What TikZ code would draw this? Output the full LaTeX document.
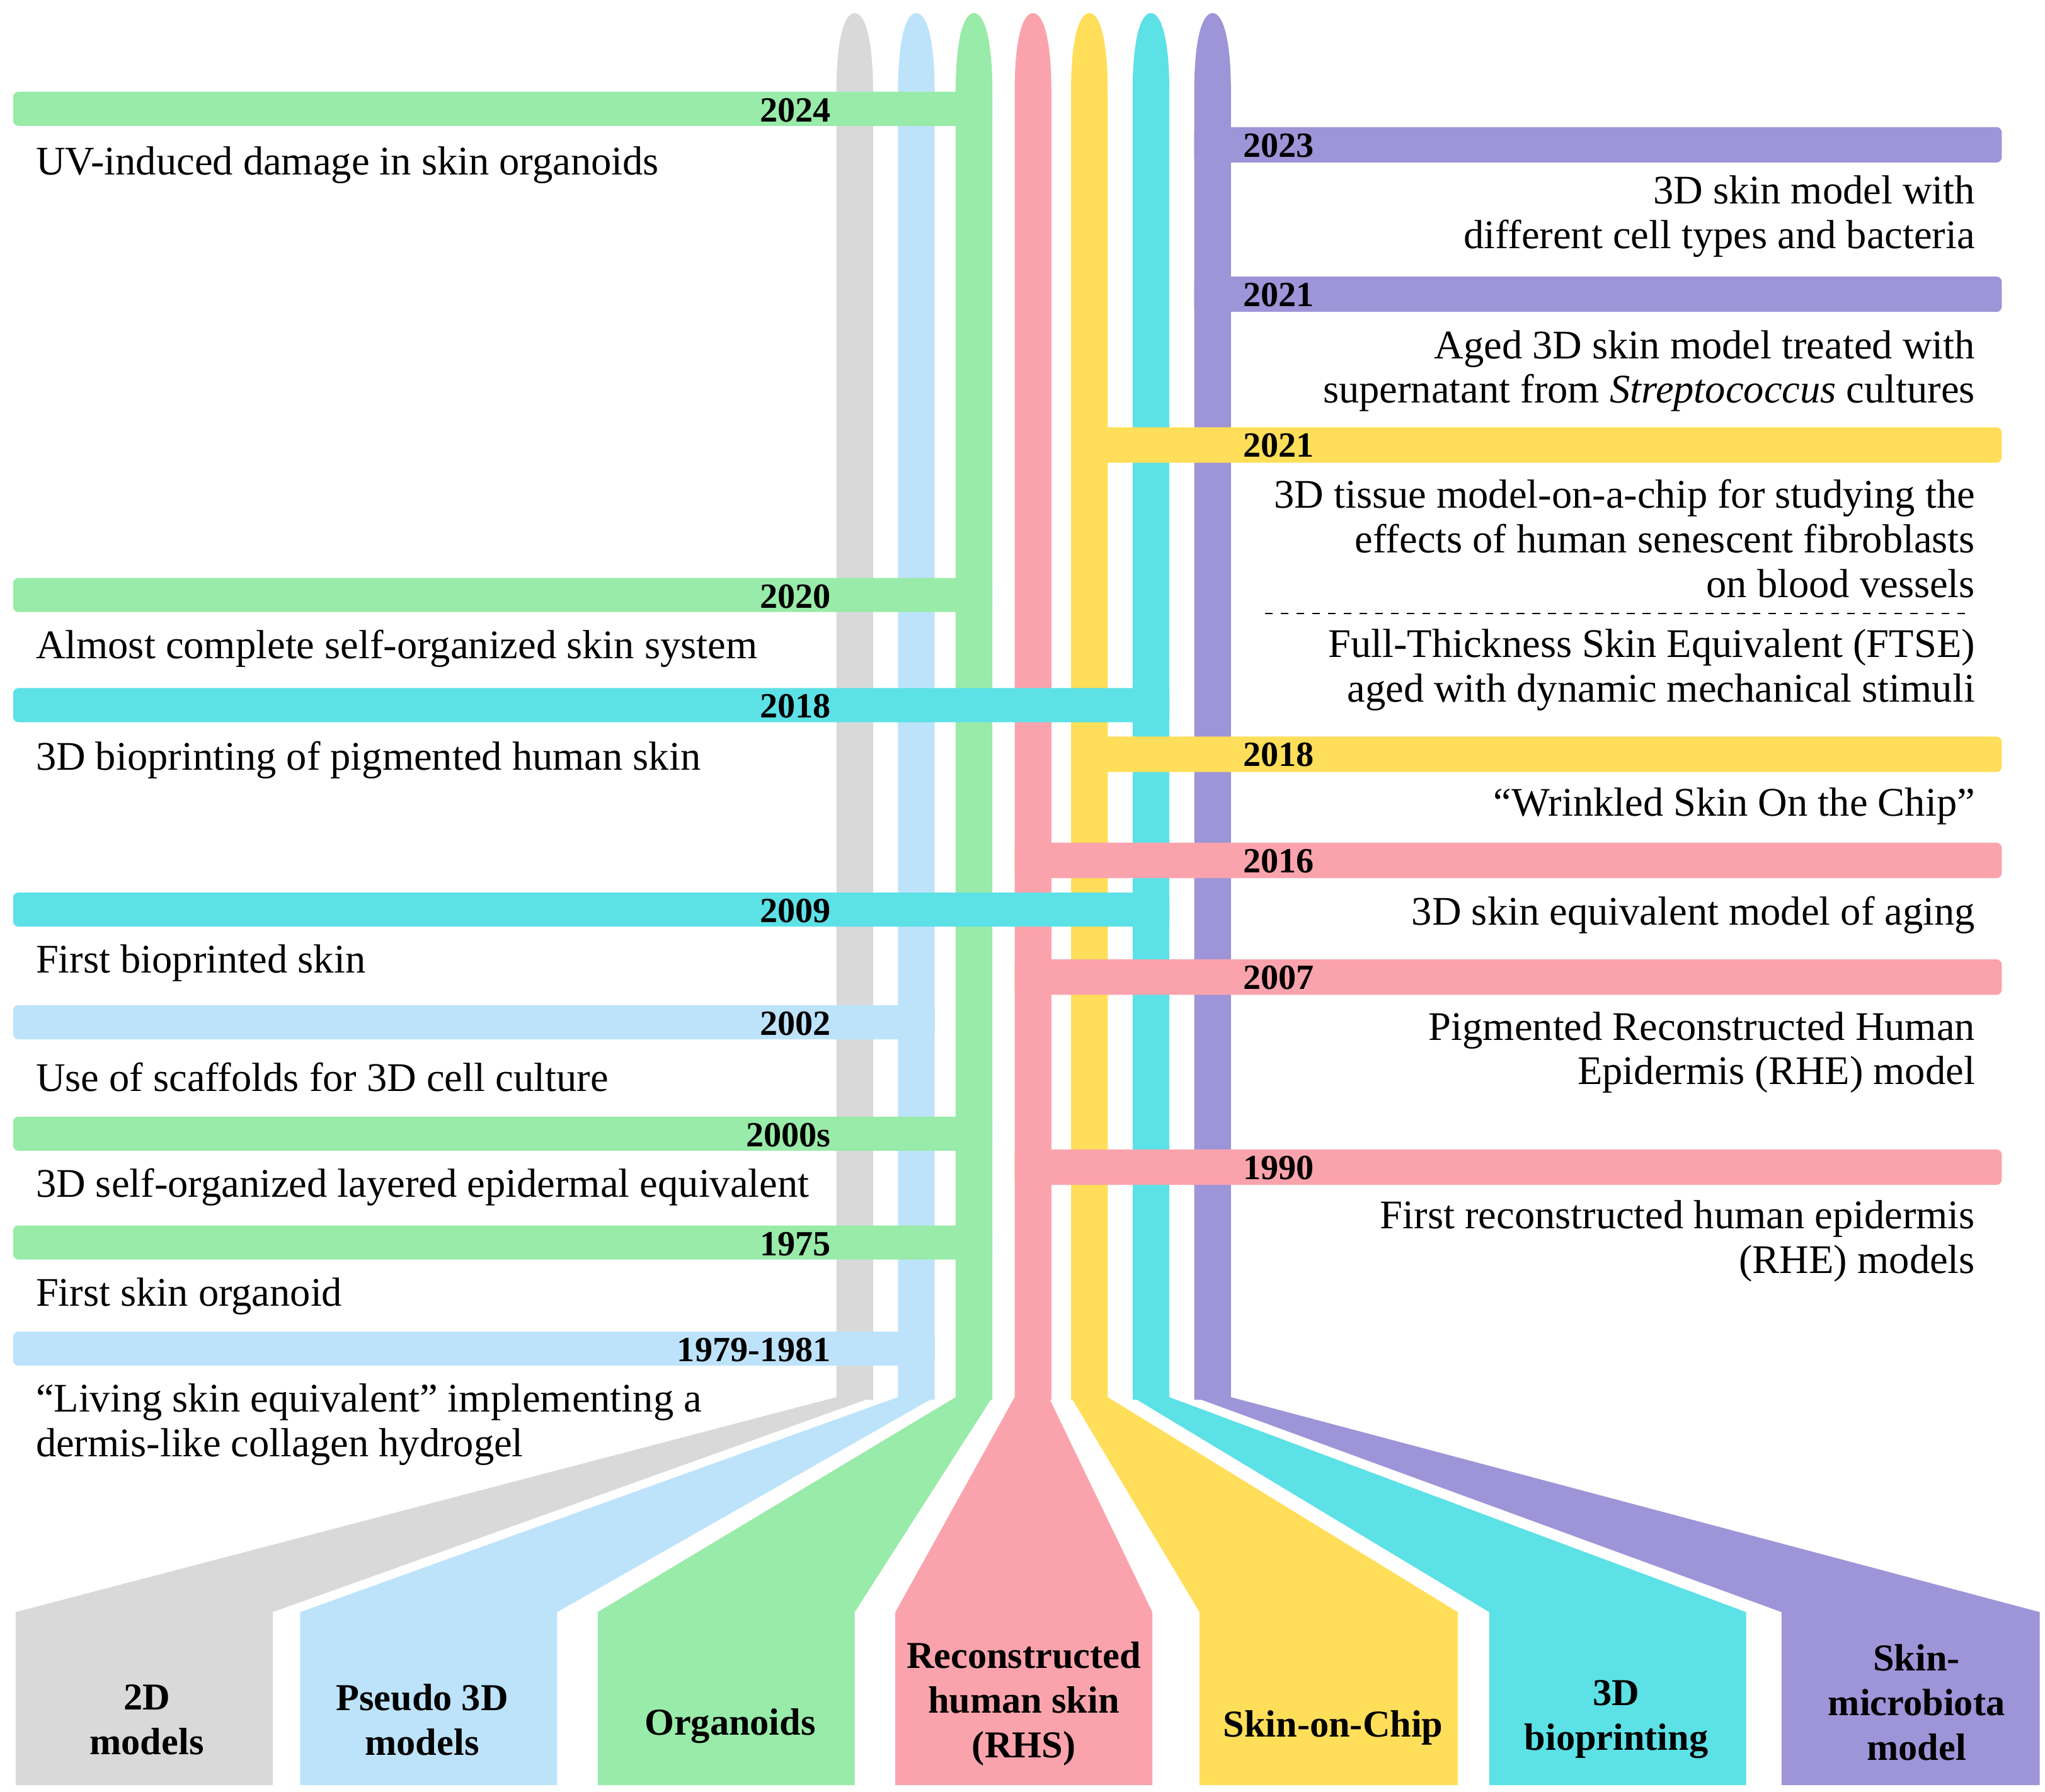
\documentclass[tikz,border=0pt]{standalone}
\usepackage{fontspec}
\setmainfont{Liberation Serif}
\definecolor{cg}{HTML}{D9D9D9}
\definecolor{cb}{HTML}{BDE3FB}
\definecolor{cgr}{HTML}{98EBA8}
\definecolor{cp}{HTML}{FBA3AC}
\definecolor{cy}{HTML}{FFDE59}
\definecolor{cc}{HTML}{5CE1E6}
\definecolor{cv}{HTML}{9E94D8}
\begin{document}
\begin{tikzpicture}[x=0.5pt,y=-0.5pt,
  txt/.style={font=\fontsize{15.5}{17}\selectfont,inner sep=0pt},
  lt/.style={txt,anchor=west,align=left},
  rt/.style={txt,anchor=east,align=right},
  yr/.style={font=\fontsize{13.5}{15}\selectfont\bfseries,inner sep=0pt},
  bx/.style={font=\fontsize{14.5}{17}\selectfont\bfseries,inner sep=0pt,align=center}]
\useasboundingbox (0,0) rectangle (1560,1367);
% strips
\foreach \a/\c in {638/cg,685/cb,729/cgr,774/cp,817/cy,864/cc,911/cv}{
  \pgfmathsetmacro\b{\a+28}\pgfmathsetmacro\m{\a+14}
  \fill[\c] (\a,1068) -- (\a,70) .. controls (\a,30) and (\m-8,10) .. (\m,10)
     .. controls (\m+8,10) and (\b,30) .. (\b,70) -- (\b,1068) -- cycle;}
% fans and boxes
\fill[cg] (638,1066) -- (666,1066) -- (208,1230) -- (208,1362) -- (12,1362) -- (12,1230) -- cycle;
\fill[cb] (685,1066) -- (713,1066) -- (425,1230) -- (425,1362) -- (229,1362) -- (229,1230) -- cycle;
\fill[cgr] (729,1066) -- (757,1066) -- (652,1230) -- (652,1362) -- (456,1362) -- (456,1230) -- cycle;
\fill[cp] (774,1066) -- (800,1066) -- (879,1230) -- (879,1362) -- (683,1362) -- (683,1230) -- cycle;
\fill[cy] (817,1066) -- (845,1066) -- (1112,1230) -- (1112,1362) -- (915,1362) -- (915,1230) -- cycle;
\fill[cc] (864,1066) -- (892,1066) -- (1332,1230) -- (1332,1362) -- (1136,1362) -- (1136,1230) -- cycle;
\fill[cv] (911,1066) -- (939,1066) -- (1556,1230) -- (1556,1362) -- (1359,1362) -- (1359,1230) -- cycle;
\node[bx] (b1) at (112,1312) {2D\\models};
\node[bx] (b2) at (322,1312) {Pseudo 3D\\models};
\node[bx] (b3) at (557,1317) {Organoids};
\node[bx] (b4) at (781,1300) {Reconstructed\\human skin\\(RHS)};
\node[bx] (b5) at (1017,1318) {Skin-on-Chip};
\node[bx] (b6) at (1233,1312) {3D\\bioprinting};
\node[bx] (b7) at (1462,1299) {Skin-\\microbiota\\model};
% left bars
\foreach \y/\r/\c/\t in {70/757/cgr/2024,441/757/cgr/2020,525/892/cc/2018,681/892/cc/2009,767/713/cb/2002,852/757/cgr/2000s,935/757/cgr/1975,1016/713/cb/1979-1981}{
  \fill[\c,rounded corners=2] (10,\y) rectangle (\r,\y+26);
  \node[yr,anchor=east] at (634,\y+14) {\t};}
% right bars
\foreach \y/\l/\c/\t in {97/911/cv/2023,211/911/cv/2021,326/817/cy/2021,562/817/cy/2018,643/774/cp/2016,732/774/cp/2007,877/774/cp/1990}{
  \fill[\c,rounded corners=2] (\l,\y) rectangle (1527,\y+27);
  \node[yr,anchor=west] at (948,\y+14) {\t};}
% left texts
\node[lt] (l1) at (27,126) {UV-induced damage in skin organoids};
\node[lt] (l2) at (27,495) {Almost complete self-organized skin system};
\node[lt] (l3) at (27,580) {3D bioprinting of pigmented human skin};
\node[lt] (l4) at (27,735) {First bioprinted skin};
\node[lt] (l5) at (27,822) {Use of scaffolds for 3D cell culture};
\node[lt] (l6) at (27,906) {3D self-organized layered epidermal equivalent};
\node[lt] (l7) at (27,989) {First skin organoid};
\node[lt] (l8) at (27,1087) {“Living skin equivalent” implementing a\\dermis-like collagen hydrogel};
% right texts
\node[rt] (r1) at (1507,165) {3D skin model with\\different cell types and bacteria};
\node[rt] (r2) at (1507,283) {Aged 3D skin model treated with\\supernatant from \textit{Streptococcus} cultures};
\node[rt] (r3) at (1507,411) {3D tissue model-on-a-chip for studying the\\effects of human senescent fibroblasts\\on blood vessels};
\draw[dashed,line width=0.6pt] (965,468) -- (1500,468);
\node[rt] (r4) at (1507,511) {Full-Thickness Skin Equivalent (FTSE)\\aged with dynamic mechanical stimuli};
\node[rt] (r5) at (1507,615) {“Wrinkled Skin On the Chip”};
\node[rt] (r6) at (1507,698) {3D skin equivalent model of aging};
\node[rt] (r7) at (1507,803) {Pigmented Reconstructed Human\\Epidermis (RHE) model};
\node[rt] (r8) at (1507,947) {First reconstructed human epidermis\\(RHE) models};
\end{tikzpicture}
\end{document}
